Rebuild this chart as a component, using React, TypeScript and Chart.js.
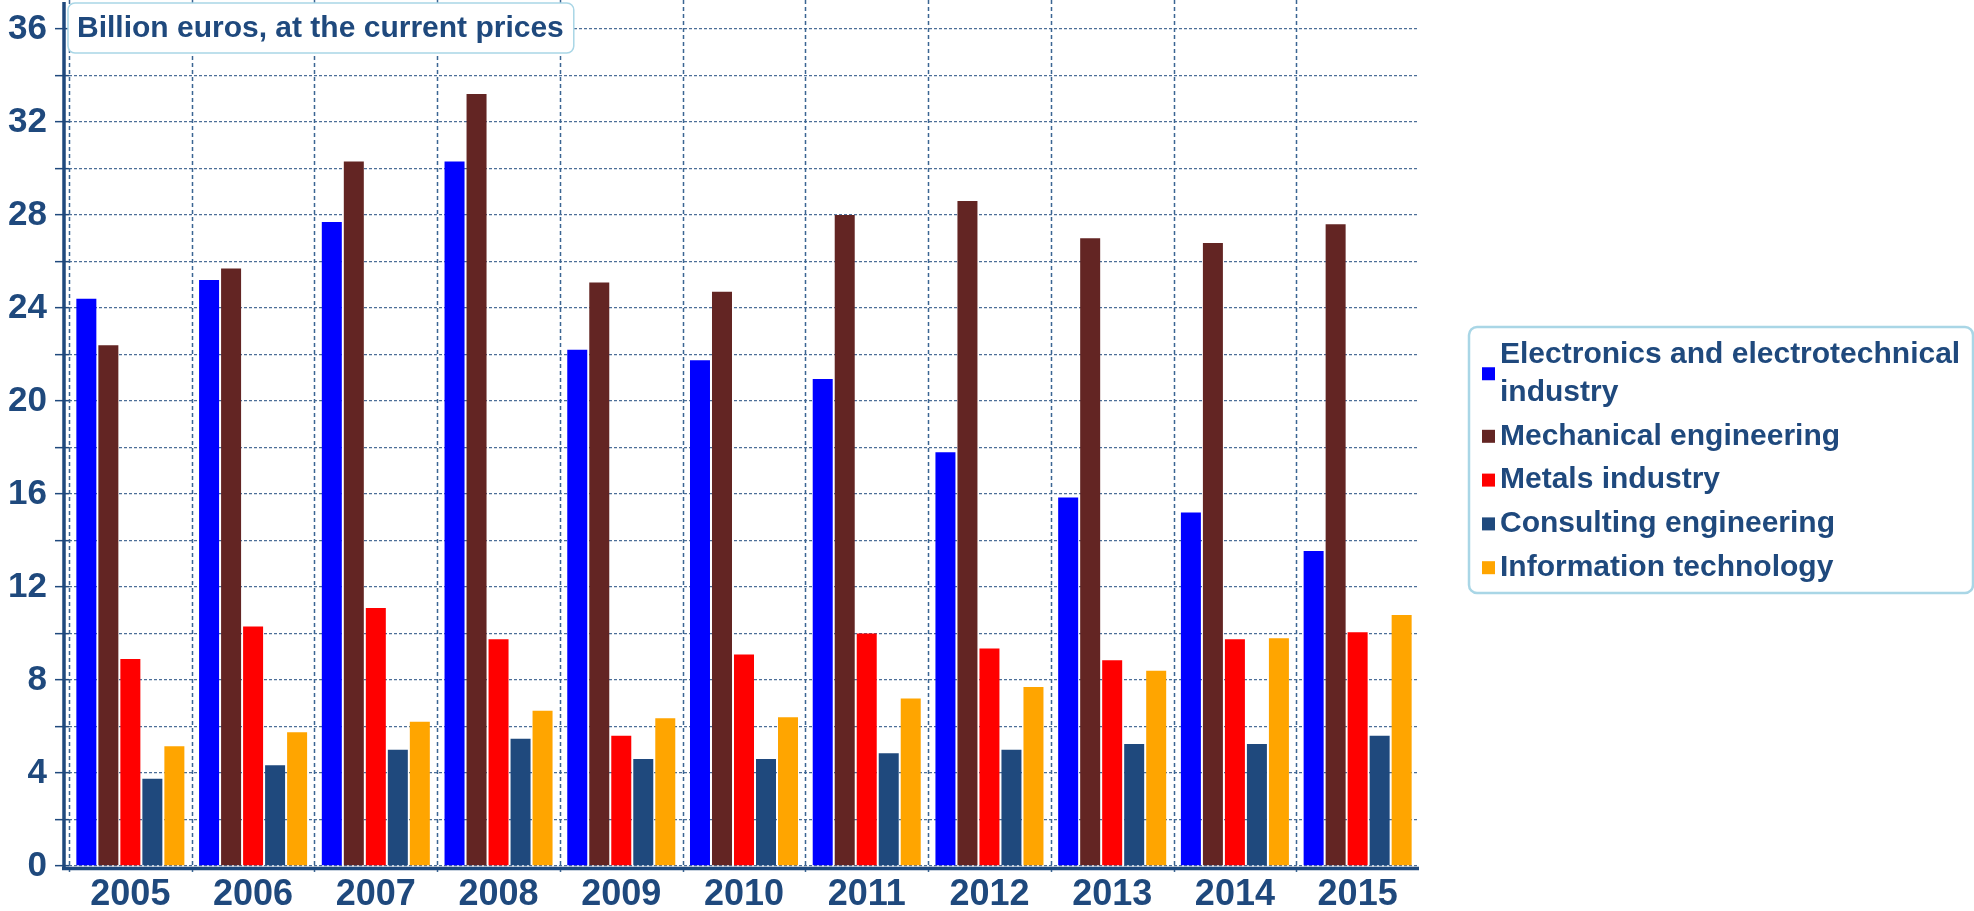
import React, { useEffect, useRef } from 'react';
import { Chart, registerables } from 'chart.js';

Chart.register(...registerables);

const years = ['2005', '2006', '2007', '2008', '2009', '2010', '2011', '2012', '2013', '2014', '2015'];
const electronics = [24.4, 25.2, 27.7, 30.3, 22.2, 21.75, 20.95, 17.8, 15.85, 15.2, 13.55];
const mechanical = [22.4, 25.7, 30.3, 33.2, 25.1, 24.7, 28.0, 28.6, 27.0, 26.8, 27.6];
const metals = [8.9, 10.3, 11.1, 9.75, 5.6, 9.1, 10.0, 9.35, 8.85, 9.75, 10.05];
const consulting = [3.75, 4.33, 5.0, 5.47, 4.6, 4.6, 4.85, 5.0, 5.25, 5.25, 5.6];
const infoTech = [5.15, 5.75, 6.2, 6.68, 6.35, 6.4, 7.2, 7.7, 8.4, 9.8, 10.8];

const seriesNames = [
  'Electronics and electrotechnical industry',
  'Mechanical engineering',
  'Metals industry',
  'Consulting engineering',
  'Information technology',
];
const seriesColors = ['#0000ff', '#632523', '#ff0000', '#1f497d', '#ffa500'];
const seriesData = [electronics, mechanical, metals, consulting, infoTech];
const yTickStep = 2;
const yLabelStep = 4;
const yMax = 36;
const titleText = 'Billion euros, at the current prices';

const FONT = '"Liberation Sans", Arial, Helvetica, sans-serif';
const TEXT = '#1f497d';
const BOX = '#a9d6e6';

function roundRect(ctx: CanvasRenderingContext2D, x: number, y: number, w: number, h: number, r: number) {
  ctx.beginPath();
  ctx.moveTo(x + r, y);
  ctx.lineTo(x + w - r, y);
  ctx.arcTo(x + w, y, x + w, y + r, r);
  ctx.lineTo(x + w, y + h - r);
  ctx.arcTo(x + w, y + h, x + w - r, y + h, r);
  ctx.lineTo(x + r, y + h);
  ctx.arcTo(x, y + h, x, y + h - r, r);
  ctx.lineTo(x, y + r);
  ctx.arcTo(x, y, x + r, y, r);
  ctx.closePath();
}

function wrap(ctx: CanvasRenderingContext2D, text: string, maxW: number): string[] {
  const words = text.split(' ');
  const lines: string[] = [];
  let cur = '';
  for (const w of words) {
    const t = cur ? cur + ' ' + w : w;
    if (ctx.measureText(t).width > maxW && cur) {
      lines.push(cur);
      cur = w;
    } else cur = t;
  }
  if (cur) lines.push(cur);
  return lines;
}

const decor = {
  id: 'decor',
  beforeDatasetsDraw(chart: any) {
    const { ctx, chartArea } = chart;
    const xs = chart.scales.x;
    const n = years.length;
    const step = (xs.right - xs.left) / n;
    ctx.save();
    ctx.strokeStyle = '#3b6592';
    ctx.lineWidth = 1.5;
    ctx.setLineDash([4, 3]);
    for (let i = 0; i < n; i++) {
      const x = Math.round(xs.left + i * step) + 0.5;
      ctx.beginPath();
      ctx.moveTo(x, 0);
      ctx.lineTo(x, chartArea.bottom + 6);
      ctx.stroke();
    }
    ctx.restore();
  },
  afterDraw(chart: any) {
    const { ctx, chartArea } = chart;
    ctx.save();
    // axes
    ctx.strokeStyle = TEXT;
    ctx.lineWidth = 3.5;
    ctx.setLineDash([]);
    ctx.beginPath();
    ctx.moveTo(chartArea.left - 5, 2);
    ctx.lineTo(chartArea.left - 5, chartArea.bottom + 4);
    ctx.stroke();
    ctx.beginPath();
    ctx.moveTo(chartArea.left - 7, chartArea.bottom + 2.5);
    ctx.lineTo(chartArea.right, chartArea.bottom + 2.5);
    ctx.stroke();

    // title box
    ctx.font = `bold 30px ${FONT}`;
    const tw = ctx.measureText(titleText).width;
    roundRect(ctx, 68, 3, tw + 19, 50, 7);
    ctx.fillStyle = '#ffffff';
    ctx.fill();
    ctx.strokeStyle = BOX;
    ctx.lineWidth = 1.5;
    ctx.stroke();
    ctx.fillStyle = TEXT;
    ctx.textBaseline = 'middle';
    ctx.textAlign = 'left';
    ctx.fillText(titleText, 77, 29);

    // legend
    const lx = 1469;
    const ly = 327;
    roundRect(ctx, lx, ly, 1973 - lx, 266, 8);
    ctx.fillStyle = '#ffffff';
    ctx.fill();
    ctx.strokeStyle = BOX;
    ctx.lineWidth = 2.5;
    ctx.stroke();
    ctx.font = `bold 30px ${FONT}`;
    let y = 355;
    chart.data.datasets.forEach((ds: any) => {
      const lines = wrap(ctx, ds.label, 468);
      const lineH = 37.5;
      const mid = y + ((lines.length - 1) * lineH) / 2;
      ctx.fillStyle = ds.backgroundColor;
      ctx.fillRect(1482, mid - 6.5, 13, 13);
      ctx.fillStyle = TEXT;
      lines.forEach((l, k) => ctx.fillText(l, 1500, y + k * lineH));
      y += (lines.length - 1) * lineH + 43.8;
    });
    ctx.restore();
  },
};

export default function App() {
  const ref = useRef<HTMLCanvasElement>(null);
  useEffect(() => {
    const chart = new Chart(ref.current as HTMLCanvasElement, {
      type: 'bar',
      data: {
        labels: years,
        datasets: seriesNames.map((name, i) => ({
          label: name,
          data: seriesData[i],
          backgroundColor: seriesColors[i],
          borderWidth: 0,
          categoryPercentage: 0.8965,
          barPercentage: 0.909,
        })),
      },
      options: {
        responsive: false,
        animation: false,
        layout: { padding: { left: 0, top: 25.4, right: 555, bottom: 0 } },
        plugins: {
          legend: { display: false },
          title: { display: false },
          tooltip: { enabled: false },
        },
        scales: {
          x: {
            grid: { display: false, drawTicks: false, tickLength: 0 },
            border: { display: false },
            ticks: {
              color: TEXT,
              font: { family: FONT, size: 36, weight: 'bold' },
              padding: 7,
            },
            afterFit: (s: any) => {
              s.height = 45;
            },
          },
          y: {
            min: 0,
            max: yMax,
            border: { display: false, dash: [3, 2] },
            grid: {
              color: '#4d6f98',
              lineWidth: 1.3,
              tickLength: 14,
              tickColor: TEXT,
              tickWidth: 1.5,
              tickBorderDash: [],
            },
            ticks: {
              stepSize: yTickStep,
              autoSkip: false,
              callback: (v: any) => (Number(v) % yLabelStep === 0 ? String(v) : ''),
              color: TEXT,
              font: { family: FONT, size: 35, weight: 'bold' },
              padding: 8,
            },
            afterFit: (s: any) => {
              s.width = 69;
            },
          },
        },
      } as any,
      plugins: [decor],
    });
    return () => chart.destroy();
  }, []);
  return (
    <div style={{ position: 'fixed', left: 0, top: 0, width: 1974, height: 911, background: '#fff' }}>
      <canvas ref={ref} width={1974} height={911} style={{ width: 1974, height: 911, display: 'block' }} />
    </div>
  );
}
